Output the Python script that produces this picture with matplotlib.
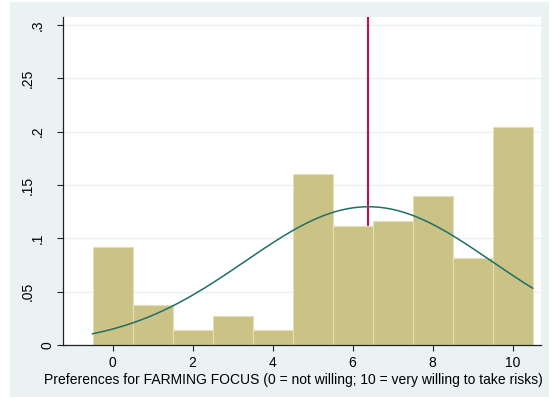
import matplotlib
matplotlib.use("Agg")
import matplotlib.pyplot as plt
import numpy as np
from matplotlib.patches import Rectangle

plt.rcParams["font.family"] = ["Liberation Sans", "DejaVu Sans"]

# histogram densities (one bin per score 0..10)
scores = [0, 1, 2, 3, 4, 5, 6, 7, 8, 9, 10]
density = [0.092, 0.0375, 0.014, 0.027, 0.014, 0.160, 0.112, 0.116, 0.1397, 0.082, 0.2047]
y_ticks = [0, 0.05, 0.1, 0.15, 0.2, 0.25, 0.3]
y_labels = ["0", ".05", ".1", ".15", ".2", ".25", ".3"]
x_ticks = [0, 2, 4, 6, 8, 10]
x_title = "Preferences for FARMING FOCUS (0 = not willing; 10 = very willing to take risks)"

s = np.array(scores, dtype=float)
p = np.array(density) / np.sum(density)
mean = np.sum(s * p)
sd = np.sqrt(np.sum(p * (s - mean) ** 2))

W, H = 551, 397
ax_l, ax_b, ax_w, ax_h = 63, 52, 478, 328

fig = plt.figure(figsize=(W / 100, H / 100), dpi=100)
fig.patch.set_facecolor("white")
fig.patches.append(Rectangle((10 / W, 0), 539 / W, 395 / H,
                             transform=fig.transFigure, facecolor="#eaf2f3",
                             edgecolor="none", zorder=-10))

ax = fig.add_axes([ax_l / W, ax_b / H, ax_w / W, ax_h / H])
ax.set_facecolor("white")

ax.set_xlim(-1.24, 10.71)
ax.set_ylim(0, 0.3075)

for y in y_ticks:
    ax.axhline(y, color="#eaf2f3", lw=1, zorder=0)

ax.axvline(mean, color="#c8103e", lw=1.5, zorder=1)
ax.bar(scores, density, width=1.0, color="#cbc385", edgecolor="#e4dfb8",
       linewidth=0.8, zorder=2)

xs = np.linspace(-0.5, 10.5, 300)
pdf = np.exp(-0.5 * ((xs - mean) / sd) ** 2) / (sd * np.sqrt(2 * np.pi))
ax.plot(xs, pdf, color="#1f6f6a", lw=1.1, zorder=3)

for side in ["top", "right"]:
    ax.spines[side].set_visible(False)
for side in ["left", "bottom"]:
    ax.spines[side].set_color("#222222")
    ax.spines[side].set_linewidth(0.9)

# stata-style rotated y labels: longer labels sit further from the axis
ax.set_yticks(y_ticks)
ax.set_yticklabels([])
ytrans = ax.get_yaxis_transform()
for y, lab in zip(y_ticks, y_labels):
    base_px = 52 - 10 * (len(lab) - 1)
    ax.text((base_px - ax_l) / ax_w, y, lab, transform=ytrans, rotation=90,
            rotation_mode="anchor", ha="center", va="baseline", fontsize=10,
            clip_on=False)

ax.set_xticks(x_ticks)
ax.tick_params(axis="both", length=4, width=0.8, color="#222222",
               labelsize=10, pad=4)
ax.set_xlabel(x_title, fontsize=10)
ax.xaxis.set_label_coords((293 - ax_l) / ax_w, -(380 - 345) / ax_h)
ax.xaxis.label.set_va("center")

fig.savefig("out.png", dpi=100)
